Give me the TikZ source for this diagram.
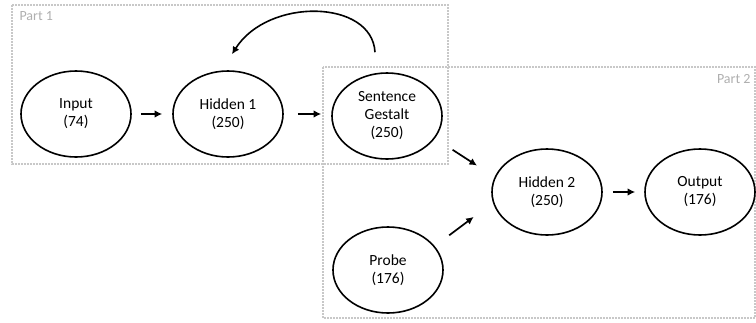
\documentclass[tikz,border=0pt]{standalone}
\usepackage{fontspec}
\setmainfont{Carlito}
\usetikzlibrary{arrows.meta,shapes.geometric}
\definecolor{boxgray}{RGB}{200,200,200}
\definecolor{labelgray}{RGB}{175,175,175}

\begin{document}
\begin{tikzpicture}[x=1pt,y=-1pt,>={Latex[length=7.5pt,width=7.5pt]},every node/.style={font=\fontsize{15.5}{18}\selectfont}]
\tikzstyle{layer}=[ellipse,draw,line width=1.6pt,minimum width=110pt,minimum height=86pt,inner sep=0pt,align=center]
\tikzstyle{part}=[draw=boxgray,line width=1.4pt,dash pattern=on 1.6pt off 1.4pt]
\tikzstyle{conn}=[->,line width=1.7pt]
\useasboundingbox (0,0) rectangle (756,322);
% dotted boxes
\draw[part] (12,5) rectangle (448,164);
\draw[part] (323,67) rectangle (755,318);
\node[text=labelgray,anchor=north west,font=\fontsize{14}{17}\selectfont] (p1) at (16,8) {Part 1};
\node[text=labelgray,anchor=north east,font=\fontsize{14}{17}\selectfont] (p2) at (754,71) {Part 2};
% layers
\node[layer] (in) at (76,114) {Input\\(74)};
\node[layer] (h1) at (228,114) {Hidden 1\\(250)};
\node[layer] (sg) at (387,116) {Sentence\\Gestalt\\(250)};
\node[layer] (h2) at (547,192) {Hidden 2\\(250)};
\node[layer] (out) at (700,192) {Output\\(176)};
\node[layer] (probe) at (388,270) {Probe\\(176)};
% connections
\draw[conn,shorten <=9pt,shorten >=10pt] (in) -- (h1);
\draw[conn,shorten <=14pt,shorten >=10pt] (h1.east) -- (sg.west |- h1.east);
\draw[conn,shorten <=21pt,shorten >=21pt] (sg.-25) -- (h2.164);
\draw[conn,shorten <=18pt,shorten >=24pt] (probe.27) -- (h2.191);
\draw[conn,shorten <=10pt,shorten >=9pt] (h2) -- (out);
\draw[->,line width=1.6pt] ([xshift=-12pt,yshift=20pt]sg.north) .. controls +(-3,-53) and +(36,-57) .. ([xshift=4pt,yshift=16pt]h1.north);
\end{tikzpicture}
\end{document}
